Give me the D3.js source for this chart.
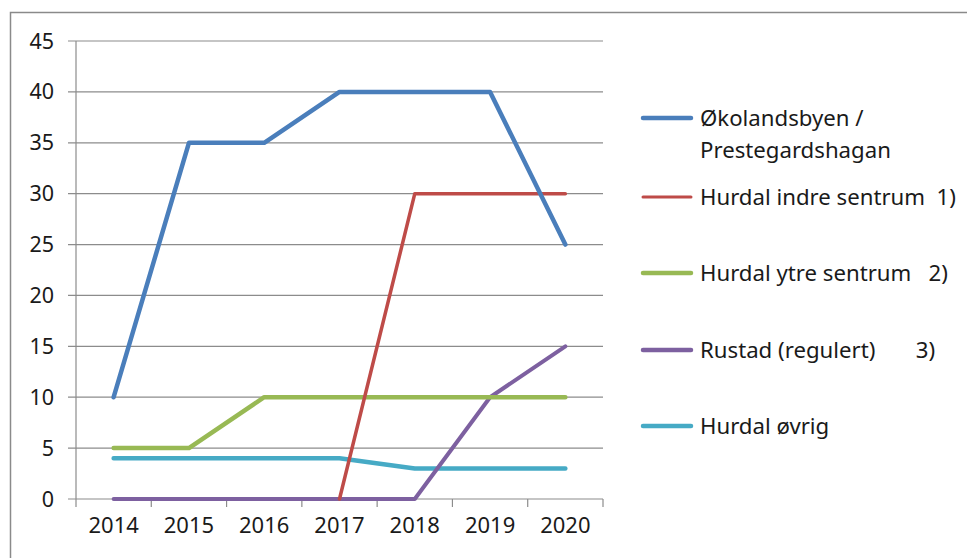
<!DOCTYPE html>
<html><head><meta charset="utf-8">
<script src="https://cdn.jsdelivr.net/npm/d3@7"></script>
<style>body{margin:0;background:#fff}svg{display:block}text{font-family:"Noto Sans",sans-serif;fill:#1a1a1a}</style>
</head><body><svg id="c" width="967" height="558"></svg>
<script>
const years = ["2014","2015","2016","2017","2018","2019","2020"];
const yTicks = [0,5,10,15,20,25,30,35,40,45];
const seriesNames = ["Økolandsbyen /\nPrestegardshagan","Hurdal indre sentrum  1)","Hurdal ytre sentrum   2)","Rustad (regulert)       3)","Hurdal øvrig"];
const okolandsbyen = [10,35,35,40,40,40,25];
const indreSentrum = [null,null,null,0,30,30,30];
const ytreSentrum = [5,5,10,10,10,10,10];
const rustad = [0,0,0,0,0,10,15];
const ovrig = [4,4,4,4,3,3,3];
const colors = ["#4a7ebb","#be4b48","#98b954","#7d60a0","#46aac5"];
const widths = [4.5,3.5,4.5,4,4.5];

const svg = d3.select("#c");
svg.append("rect").attr("x",10.5).attr("y",12.5).attr("width",1000).attr("height",600)
  .attr("fill","none").attr("stroke","#8a8a8a").attr("stroke-width",1.5);

const x = d3.scaleBand().domain(years).range([76,603]);
const y = d3.scaleLinear().domain([0,45]).range([499,41]);

svg.append("g").selectAll("line").data(yTicks).join("line")
  .attr("x1",68).attr("x2",603).attr("y1",d=>y(d)).attr("y2",d=>y(d))
  .attr("stroke","#8c8c8c").attr("stroke-width",1.2);
svg.append("line").attr("x1",76).attr("x2",76).attr("y1",y(45)).attr("y2",507)
  .attr("stroke","#8c8c8c").attr("stroke-width",1.2);
const bounds = years.map(d=>x(d)).concat([x.range()[1]]);
svg.append("g").selectAll("line").data(bounds.slice(1)).join("line")
  .attr("x1",d=>d).attr("x2",d=>d).attr("y1",499).attr("y2",507)
  .attr("stroke","#8c8c8c").attr("stroke-width",1.2);

svg.append("g").selectAll("text").data(yTicks).join("text")
  .attr("x",54).attr("y",d=>y(d)).attr("dy","0.35em").attr("text-anchor","end")
  .attr("font-size",21.5).text(d=>d);
svg.append("g").selectAll("text").data(years).join("text")
  .attr("x",d=>x(d)+x.bandwidth()/2).attr("y",525).attr("dy","0.35em").attr("text-anchor","middle")
  .attr("font-size",22).text(d=>d);

const all = [okolandsbyen,indreSentrum,ytreSentrum,rustad,ovrig];
const line = d3.line().defined(d=>d.v!=null).x(d=>x(d.k)+x.bandwidth()/2).y(d=>y(d.v));
[4,3,2,1,0].forEach(i=>{
  svg.append("path").datum(years.map((k,j)=>({k,v:all[i][j]})))
    .attr("d",line).attr("fill","none").attr("stroke",colors[i]).attr("stroke-width",widths[i])
    .attr("stroke-linejoin","round").attr("stroke-linecap","round");
});

const legY = [118,197,273,350,426];
const lg = svg.append("g");
seriesNames.forEach((name,i)=>{
  lg.append("line").attr("x1",643).attr("x2",691).attr("y1",legY[i]).attr("y2",legY[i])
    .attr("stroke",colors[i]).attr("stroke-width",i===1?3:4.5).attr("stroke-linecap","round");
  const t = lg.append("text").attr("x",700).attr("y",legY[i]).attr("font-size",22.2)
    .style("white-space","pre");
  name.split("\n").forEach((s,k)=>{
    t.append("tspan").attr("x",700).attr("dy",k===0?"0.35em":"1.45em").text(s);
  });
});
</script></body></html>
